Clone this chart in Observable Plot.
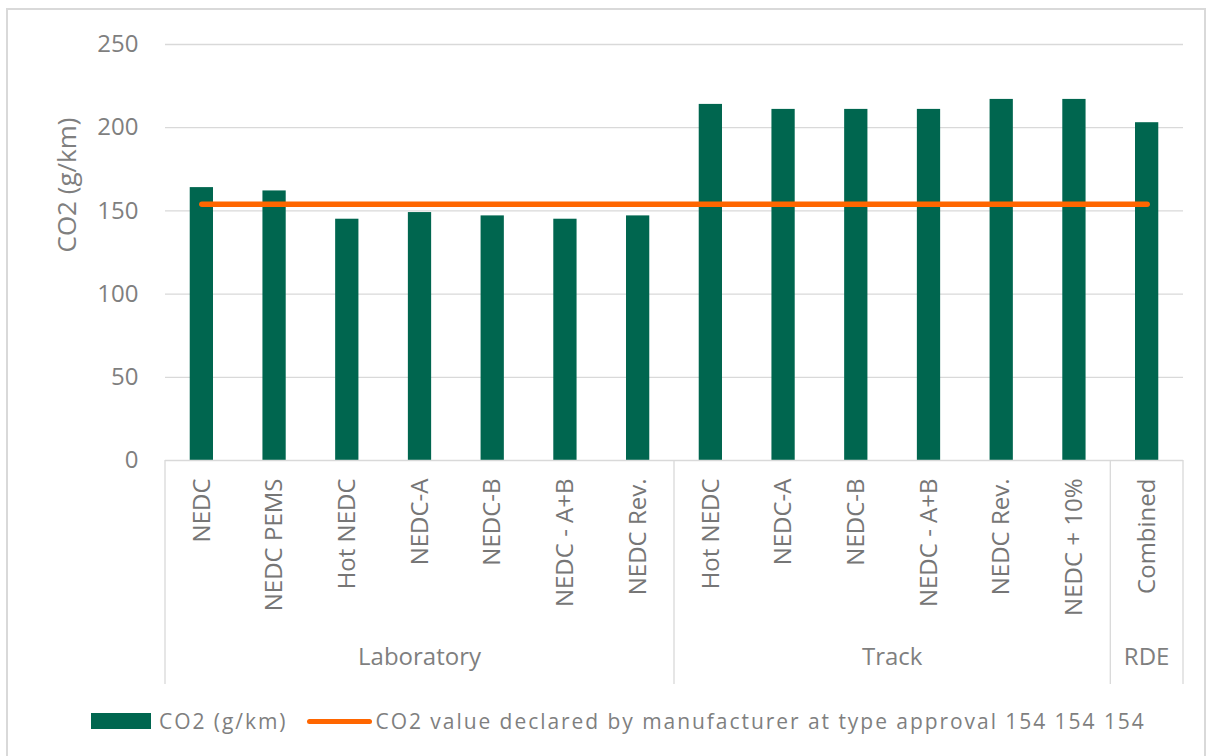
<!DOCTYPE html>
<html>
<head>
<meta charset="utf-8">
<script src="https://cdn.jsdelivr.net/npm/d3@7"></script>
<script src="https://cdn.jsdelivr.net/npm/@observablehq/plot@0.6"></script>
<style>
  html, body { margin: 0; padding: 0; background: #fff; }
  body { width: 1213px; height: 756px; position: relative; overflow: hidden; font-family: "Open Sans", sans-serif; }
  #frame { position: absolute; left: 6px; top: 8px; width: 1200px; height: 800px; border: 2px solid #d9d9d9; box-sizing: border-box; }
  #chart { position: absolute; left: 0; top: 0; }
  #legend { position: absolute; left: 91px; top: 707px; display: flex; align-items: center; color: #7f7f7f; font-size: 21px; letter-spacing: 1.95px; white-space: nowrap; }
  .sw-bar { width: 60px; height: 16px; background: #00664f; margin-right: 8px; }
  .sw-line { width: 65px; height: 5px; border-radius: 3px; background: #ff6600; margin-left: 19px; margin-right: 4px; }
</style>
</head>
<body>
<div id="frame"></div>
<div id="chart"></div>
<div id="legend"></div>
<script>
const categories = ["NEDC", "NEDC PEMS", "Hot NEDC", "NEDC-A", "NEDC-B", "NEDC - A+B", "NEDC Rev.",
  "Hot NEDC", "NEDC-A", "NEDC-B", "NEDC - A+B", "NEDC Rev.", "NEDC + 10%", "Combined"];
const groups = ["Laboratory", "Laboratory", "Laboratory", "Laboratory", "Laboratory", "Laboratory", "Laboratory",
  "Track", "Track", "Track", "Track", "Track", "Track", "RDE"];
const co2 = [164, 162, 145, 149, 147, 145, 147, 214, 211, 211, 211, 217, 217, 203];
const declared = [154, 154, 154, 154, 154, 154, 154, 154, 154, 154, 154, 154, 154, 154];
const yTicks = [0, 50, 100, 150, 200, 250];
const seriesNames = ["CO2 (g/km)", "CO2 value declared by manufacturer at type approval 154 154 154"];
const yLabel = "CO2 (g/km)";

const keys = categories.map((c, i) => String(i));
const rows = categories.map((c, i) => ({key: keys[i], label: c, group: groups[i], co2: co2[i], declared: declared[i]}));

const textColor = "#7f7f7f";
const padInner = 0.68;

const plot = Plot.plot({
  width: 1213,
  height: 690,
  marginLeft: 165,
  marginRight: 30,
  marginTop: 44,
  marginBottom: 230,
  style: {fontFamily: "Open Sans", fontSize: "24px", color: textColor, background: "transparent", overflow: "visible"},
  x: {domain: keys, paddingInner: padInner, paddingOuter: padInner / 2, round: false, axis: null},
  y: {domain: [0, 250], axis: null},
  marks: [
    Plot.gridY(yTicks.filter(d => d > 0), {stroke: "#d9d9d9", strokeOpacity: 1, strokeWidth: 1.3}),
    Plot.axisY(yTicks, {tickSize: 0, tickPadding: 27, fontSize: 24, fill: textColor, label: null}),
    Plot.text([yLabel], {frameAnchor: "left", dx: -98, rotate: -90, fontSize: 26, fill: textColor, text: d => d}),
    Plot.axisX({tickRotate: -90, tickSize: 0, tickPadding: 18, fontSize: 24, fill: "#767676",
      tickFormat: k => categories[+k], label: null}),
    Plot.barY(rows, {x: "key", y: "co2", fill: "#00664f"}),
    Plot.ruleY([0], {stroke: "#d9d9d9", strokeWidth: 1.3}),
    Plot.lineY(rows, {x: "key", y: "declared", stroke: "#ff6600", strokeWidth: 5.5, strokeLinecap: "round"})
  ]
});
document.getElementById("chart").appendChild(plot);

// group separators and group labels, positioned through Plot's scales
const xs = plot.scale("x");
const ys = plot.scale("y");
const bw = xs.bandwidth;
const step = bw / (1 - padInner);
const y0 = ys.apply(0);
const svg = d3.select(plot);
const g = svg.append("g");
const groupNames = Array.from(new Set(groups));
const edges = [];
groupNames.forEach(name => {
  const idx = groups.map((gname, i) => gname === name ? i : -1).filter(i => i >= 0);
  const left = xs.apply(keys[idx[0]]) + bw / 2 - step / 2;
  const right = xs.apply(keys[idx[idx.length - 1]]) + bw / 2 + step / 2;
  edges.push(left, right);
  g.append("text")
    .attr("x", (left + right) / 2)
    .attr("y", y0 + 205)
    .attr("text-anchor", "middle")
    .attr("fill", textColor)
    .attr("font-size", 24)
    .text(name);
});
Array.from(new Set(edges.map(e => Math.round(e * 10) / 10))).forEach(e => {
  g.append("line")
    .attr("x1", e).attr("x2", e)
    .attr("y1", y0).attr("y2", y0 + 224)
    .attr("stroke", "#d9d9d9").attr("stroke-width", 1.3);
});

// legend
const legend = document.getElementById("legend");
legend.innerHTML = `<div class="sw-bar"></div><span>${seriesNames[0]}</span><div class="sw-line"></div><span>${seriesNames[1]}</span>`;
</script>
</body>
</html>
